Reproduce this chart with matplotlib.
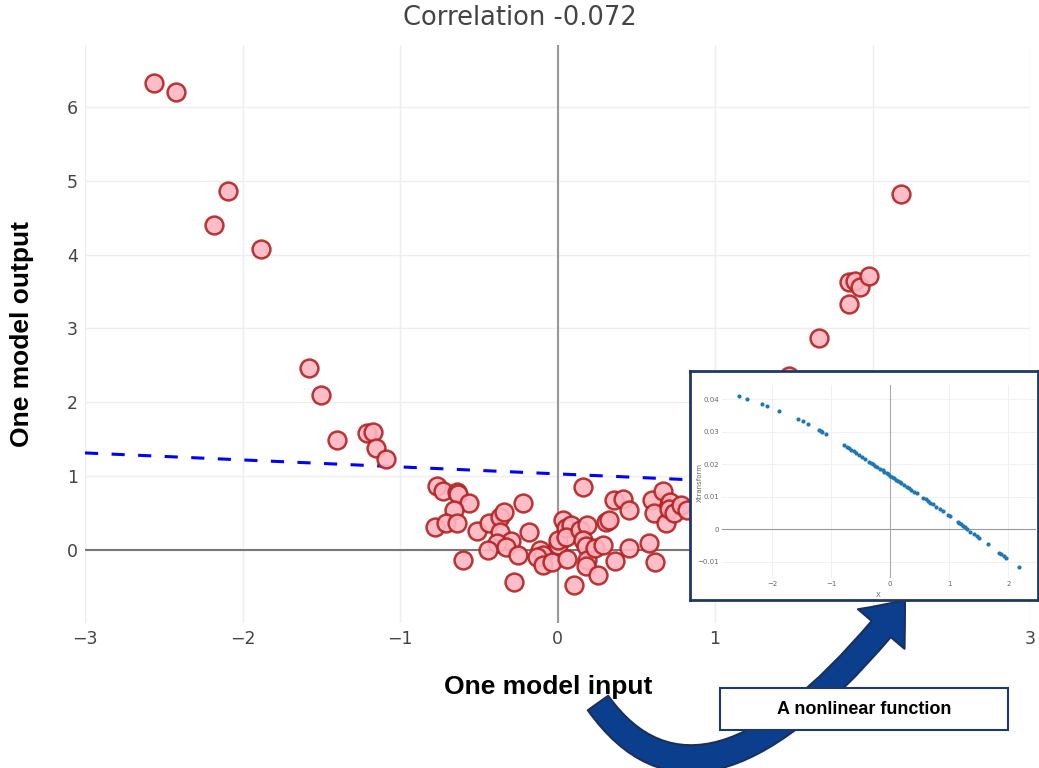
import matplotlib
matplotlib.use("Agg")
import matplotlib.pyplot as plt
from matplotlib.patches import FancyArrowPatch, Rectangle
from matplotlib.path import Path
import matplotlib.transforms as mtransforms

# main scatter: model input vs output
x_vals = [-2.565, -2.42, -2.09, -2.18, -1.88, -1.575, -1.50, -1.40, -1.21, -1.17, -1.15, -1.09,
          2.18, 1.85, 1.89, 1.92, 1.98, 1.85, 1.66, 1.47,
          -0.764, -0.724, -0.637, -0.629, -0.565, -0.660, -0.775, -0.711, -0.641, -0.510,
          -0.438, -0.362, -0.337, -0.362, -0.298, -0.383, -0.324, -0.444, -0.597, -0.248,
          -0.216, -0.184, -0.279, -0.108, -0.089, -0.127, -0.095, -0.032, 0.000, 0.000,
          0.032, 0.051, 0.083, 0.051, 0.063, 0.159, 0.146, 0.190, 0.159, 0.178,
          0.190, 0.178, 0.102, 0.254, 0.241, 0.286, 0.305, 0.324, 0.368, 0.356,
          0.413, 0.451, 0.457, 0.578, 0.616, 0.603, 0.667, 0.610, 0.686, 0.717,
          0.705, 0.737, 0.781, 0.825]
y_vals = [6.33, 6.21, 4.86, 4.40, 4.07, 2.47, 2.10, 1.49, 1.59, 1.60, 1.38, 1.23,
          4.82, 3.63, 3.64, 3.56, 3.71, 3.33, 2.87, 2.36,
          0.867, 0.804, 0.790, 0.759, 0.641, 0.542, 0.316, 0.366, 0.370, 0.257,
          0.370, 0.447, 0.519, 0.244, 0.126, 0.095, 0.041, 0.000, -0.136, -0.068,
          0.637, 0.244, -0.430, 0.000, -0.068, -0.095, -0.203, -0.159, 0.068, 0.136,
          0.407, 0.298, 0.339, 0.176, -0.122, 0.858, 0.271, 0.339, 0.136, 0.054,
          -0.136, -0.217, -0.474, -0.339, 0.027, 0.068, 0.383, 0.407, -0.145, 0.678,
          0.691, 0.542, 0.027, 0.099, -0.159, 0.678, 0.804, 0.501, 0.366, 0.654,
          0.556, 0.501, 0.610, 0.542]

# linear fit shown as dashed line
fit_x = [-3, 3]
fit_y = [1.314, 0.746]

# inset: transformed X
inset_x = [-2.56, -2.42, -2.17, -2.08, -1.88, -1.57, -1.48, -1.39, -1.21, -1.18, -1.15, -1.09,
           -0.78, -0.74, -0.70, -0.66, -0.62, -0.58, -0.53, -0.47, -0.42, -0.36, -0.33, -0.30,
           -0.26, -0.22, -0.18, -0.13, -0.10, -0.06, -0.03, 0.00, 0.03, 0.06, 0.10, 0.13,
           0.16, 0.19, 0.24, 0.29, 0.32, 0.36, 0.41, 0.45, 0.56, 0.60, 0.64, 0.68,
           0.72, 0.78, 0.84, 0.90, 0.98, 1.01, 1.14, 1.17, 1.20, 1.23, 1.27, 1.30,
           1.35, 1.42, 1.47, 1.50, 1.65, 1.85, 1.88, 1.92, 1.97, 2.18]
inset_y = [0.0409, 0.0401, 0.0385, 0.0378, 0.0363, 0.0339, 0.0332, 0.0323, 0.0306, 0.0303, 0.0300, 0.0294,
           0.0259, 0.0254, 0.0249, 0.0245, 0.0240, 0.0235, 0.0229, 0.0222, 0.0216, 0.0208, 0.0205, 0.0201,
           0.0196, 0.0192, 0.0187, 0.0181, 0.0177, 0.0172, 0.0169, 0.0165, 0.0161, 0.0158, 0.0153, 0.0149,
           0.0146, 0.0142, 0.0136, 0.0130, 0.0126, 0.0121, 0.0115, 0.0111, 0.0097, 0.0092, 0.0087, 0.0082,
           0.0077, 0.0070, 0.0062, 0.0055, 0.0044, 0.0040, 0.0023, 0.0019, 0.0015, 0.0011, 0.0006, 0.0002,
           -0.0007, -0.0014, -0.0021, -0.0026, -0.0046, -0.0072, -0.0076, -0.0081, -0.0087, -0.0116]

W, H = 1039, 768
fig = plt.figure(figsize=(W / 100, H / 100), dpi=100)


def box(l, t, r, b):
    # pixel box (top-left origin) -> figure fraction rect
    return [l / W, 1 - b / H, (r - l) / W, (b - t) / H]


ax = fig.add_axes(box(85, 45, 1030, 623))
ax.set_xlim(-3, 3)
ax.set_ylim(-0.99, 6.84)
ax.grid(True, color="#eeeeee", lw=1)
ax.set_axisbelow(True)
for s in ax.spines.values():
    s.set_visible(False)
ax.axhline(0, color="#777777", lw=1.5, zorder=1)
ax.axvline(0, color="#999999", lw=1.5, zorder=1)
ax.tick_params(length=0, labelsize=12.5, labelcolor="#444444", pad=5)
ax.set_xticks([-3, -2, -1, 0, 1, 2, 3])
ax.set_yticks([0, 1, 2, 3, 4, 5, 6])

ax.plot(fit_x, fit_y, color="#0000ff", lw=2.2, linestyle=(0, (4.3, 4.4)), zorder=2)
ax.scatter(x_vals, y_vals, s=165, facecolor="#ffb6c1", edgecolor="#b22222",
           linewidth=1.8, alpha=0.9, zorder=3)

fig.text(520 / W, 1 - 18 / H, "Correlation -0.072", ha="center", va="center",
         fontsize=18.5, color="#444444", family="DejaVu Sans")
fig.text(548 / W, 1 - 687 / H, "One model input", ha="center", va="center",
         fontsize=19, fontweight="bold", family="Liberation Sans")
fig.text(22 / W, 1 - 334 / H, "One model output", ha="center", va="center", rotation=90,
         fontsize=19, fontweight="bold", family="Liberation Sans")

# curved arrow from axis label to inset
verts = [(598, H - 703), (705, -85), (905, H - 600)]
arrow_path = Path(verts, [Path.MOVETO, Path.CURVE3, Path.CURVE3])
px_trans = mtransforms.Affine2D().scale(1 / W, 1 / H) + fig.transFigure
arrow = FancyArrowPatch(path=arrow_path, transform=px_trans,
                        arrowstyle="simple,head_width=44,head_length=27,tail_width=18",
                        mutation_scale=1, facecolor="#0b3f8e", edgecolor="#1b2f5c",
                        lw=1.5, zorder=2)
fig.patches.append(arrow)

# label box
fig.patches.append(Rectangle((720 / W, 1 - 730 / H), 288 / W, 42 / H, transform=fig.transFigure,
                             facecolor="white", edgecolor="#1f3864", lw=1.5, zorder=5))
fig.text(864 / W, 1 - 709 / H, "A nonlinear function", ha="center", va="center",
         fontsize=13, fontweight="bold", family="Liberation Sans", zorder=6)

# inset frame and axes
frame = fig.add_axes(box(690, 371, 1038, 600), zorder=3)
frame.set_xticks([])
frame.set_yticks([])
for s in frame.spines.values():
    s.set_color("#1f3864")
    s.set_linewidth(2)

ins = fig.add_axes(box(722, 385, 1036, 578), zorder=4)
ins.set_xlim(-2.85, 2.47)
ins.set_ylim(-0.015, 0.0444)
ins.grid(True, color="#eeeeee", lw=0.6)
ins.set_axisbelow(True)
for s in ins.spines.values():
    s.set_visible(False)
ins.axhline(0, color="#999999", lw=0.8, zorder=1)
ins.axvline(0, color="#aaaaaa", lw=0.8, zorder=1)
ins.set_xticks([-2, -1, 0, 1, 2])
ins.set_yticks([-0.01, 0, 0.01, 0.02, 0.03, 0.04])
ins.set_yticklabels(["\u22120.01", "0", "0.01", "0.02", "0.03", "0.04"])
ins.tick_params(length=0, labelsize=5, labelcolor="#666666", pad=2)
ins.scatter(inset_x, inset_y, s=9, color="#1f77b4", zorder=3, linewidths=0)
fig.text(700 / W, 1 - 483 / H, "Xtransform", rotation=90, ha="center", va="center",
         fontsize=5, color="#666666", zorder=6)
fig.text(878 / W, 1 - 595 / H, "X", ha="center", va="center", fontsize=5,
         color="#666666", zorder=6)

fig.savefig("out.png", dpi=100)
